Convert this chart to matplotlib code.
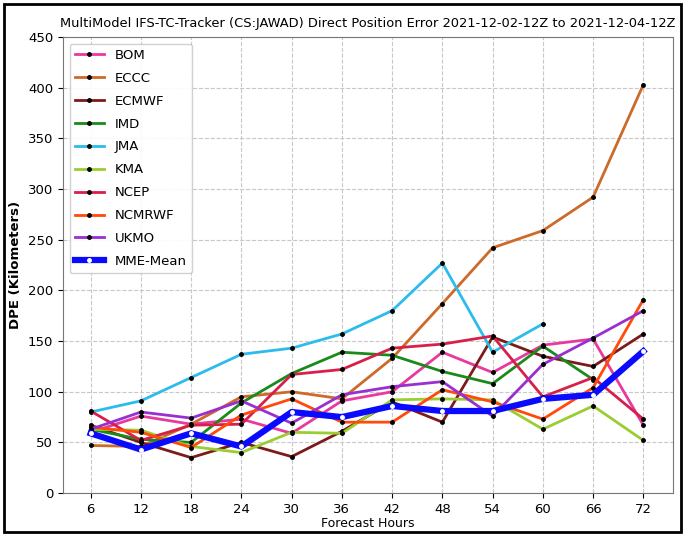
import numpy as np
import matplotlib
matplotlib.use("Agg")
import matplotlib.pyplot as plt
from matplotlib.patches import Rectangle

hours = [6, 12, 18, 24, 30, 36, 42, 48, 54, 60, 66, 72]

bom    = [60, 76, 68, 73, 59, 91, 100, 139, 119, 146, 152, 67]
eccc   = [47, 46, 68, 95, 100, 93, 133, 187, 242, 259, 292, 403]
ecmwf  = [67, 50, 35, 50, 36, 61, 90, 70, 154, 135, 125, 157]
imd    = [63, 53, 50, 89, 118, 139, 136, 120, 108, 145, 112, np.nan]
jma    = [80, 91, 114, 137, 143, 157, 180, 227, 139, 167, np.nan, np.nan]
kma    = [63, 62, 46, 40, 60, 59, 92, 93, 92, 63, 86, 52]
ncep   = [81, 52, 67, 68, 117, 122, 143, 147, 155, 95, 114, 73]
ncmrwf = [65, 60, 45, 77, 93, 70, 70, 102, 90, 73, 104, 191]
ukmo   = [63, 80, 74, 91, 69, 97, 105, 110, 76, 127, 153, 180]
mme    = [59, 43, 59, 46, 80, 75, 86, 81, 81, 93, 97, 140]

models = ["BOM", "ECCC", "ECMWF", "IMD", "JMA", "KMA", "NCEP", "NCMRWF", "UKMO"]
series = [bom, eccc, ecmwf, imd, jma, kma, ncep, ncmrwf, ukmo]
colors = ["#e8399e", "#cd6a2a", "#7d1a1a", "#1a8a1a", "#2bbcec",
          "#9acd32", "#d81f4a", "#ff4a0a", "#9a2fd0"]

fig = plt.figure(figsize=(6.85, 5.36), dpi=100)
ax = fig.add_axes([0.092, 0.080, 0.890, 0.851])

for name, vals, c in zip(models, series, colors):
    ax.plot(hours, vals, color=c, linewidth=2, marker="o", markersize=2.5,
            markerfacecolor="black", markeredgecolor="black", label=name)
ax.plot(hours, mme, color="#0a0aff", linewidth=4.5, marker="o", markersize=2.5,
        markerfacecolor="white", markeredgecolor="white", label="MME-Mean")

ax.set_xlim(2.7, 75.5)
ax.set_ylim(0, 450)
ax.set_xticks(hours)
ax.set_yticks(np.arange(0, 451, 50))
ax.tick_params(labelsize=9.5)
ax.grid(True, linestyle="--", color="#c8c8c8", linewidth=0.8)
for s in ax.spines.values():
    s.set_color("#777777")

ax.set_xlabel("Forecast Hours", fontsize=9, labelpad=1)
ax.set_ylabel("DPE (Kilometers)", fontsize=9.5, fontweight="bold")
ax.set_title("MultiModel IFS-TC-Tracker (CS:JAWAD) Direct Position Error 2021-12-02-12Z to 2021-12-04-12Z",
             fontsize=9.4, pad=7)
ax.legend(loc="upper left", fontsize=9.5, handlelength=2.2, labelspacing=0.75,
          framealpha=0.9)

fig.patches.append(Rectangle((0.006, 0.008), 0.988, 0.984, transform=fig.transFigure,
                             fill=False, edgecolor="black", linewidth=2))

fig.savefig("out.png", dpi=100)
